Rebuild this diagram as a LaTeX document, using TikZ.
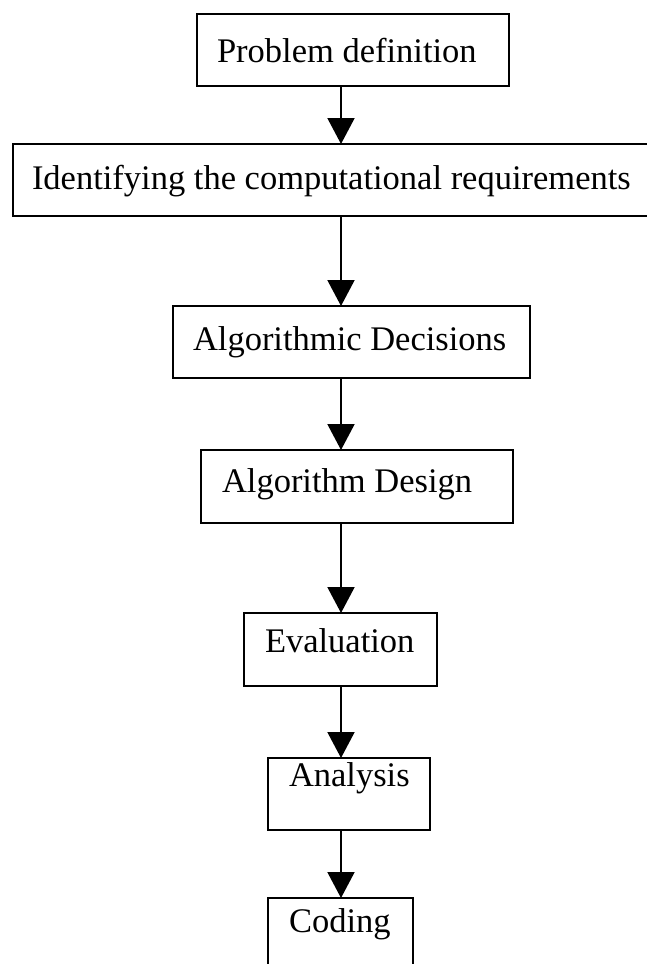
\documentclass[tikz,border=0pt]{standalone}
\usepackage{fontspec}
\setmainfont{Liberation Serif}
\usetikzlibrary{arrows.meta}
\begin{document}
\begin{tikzpicture}[x=1pt,y=-1pt,
  box/.style={draw=black,line width=2pt,rectangle,inner sep=0pt,outer sep=0pt},
  lbl/.style={anchor=base west,inner sep=0pt,outer sep=0pt,font=\fontsize{34.5}{40}\selectfont},
  arr/.style={line width=2pt,-{Triangle[length=26pt,width=27pt]}}]
\useasboundingbox (0,0) rectangle (647,964);
\clip (0,0) rectangle (647,964);
\fill[white] (0,0) rectangle (647,964);
\coordinate (ax) at (341,0);
\node[box,minimum width=312pt,minimum height=72pt] (b1) at (353,50) {};
\node[box,minimum width=647pt,minimum height=72pt] (b2) at (336.5,180) {};
\node[box,minimum width=357pt,minimum height=72pt] (b3) at (351.5,342) {};
\node[box,minimum width=312pt,minimum height=73pt] (b4) at (357,486.5) {};
\node[box,minimum width=193pt,minimum height=73pt] (b5) at (340.5,649.5) {};
\node[box,minimum width=162pt,minimum height=72pt] (b6) at (349,794) {};
\node[box,minimum width=145pt,minimum height=77pt] (b7) at (340.5,936.5) {};
\node[lbl] (t1) at (217,62) {Problem definition};
\node[lbl] (t2) at (32,189) {Identifying the computational requirements};
\node[lbl] (t3) at (193,350) {Algorithmic Decisions};
\node[lbl] (t4) at (222,492) {Algorithm Design};
\node[lbl] (t5) at (265,652) {Evaluation};
\node[lbl] (t6) at (289,786) {Analysis};
\node[lbl] (t7) at (289,932) {Coding};
\draw[arr] (b1.south -| ax) -- (b2.north -| ax);
\draw[arr] (b2.south -| ax) -- (b3.north -| ax);
\draw[arr] (b3.south -| ax) -- (b4.north -| ax);
\draw[arr] (b4.south -| ax) -- (b5.north -| ax);
\draw[arr] (b5.south -| ax) -- (b6.north -| ax);
\draw[arr] (b6.south -| ax) -- (b7.north -| ax);
\end{tikzpicture}
\end{document}
